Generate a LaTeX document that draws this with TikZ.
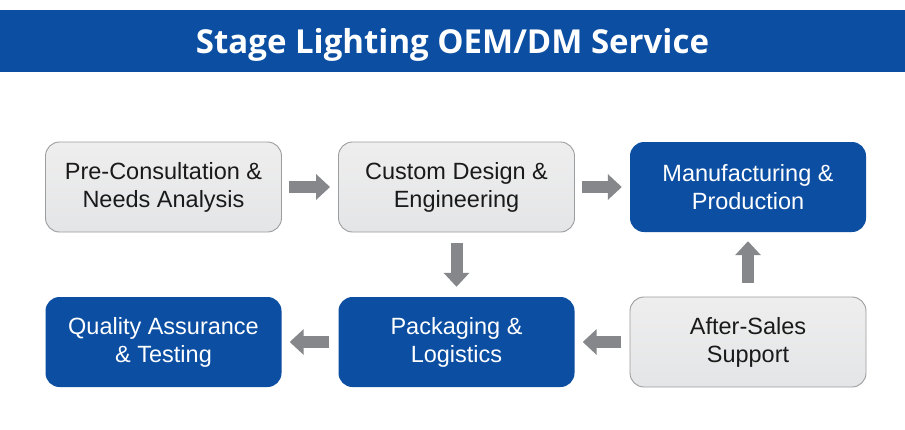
\documentclass[tikz,border=0pt]{standalone}
\usepackage{fontspec}
\setmainfont{Liberation Sans}
\newfontfamily\titlefont{Open Sans}
\usetikzlibrary{arrows.meta}
\definecolor{brandblue}{HTML}{0B4EA2}
\definecolor{boxgrey}{HTML}{E4E5E6}
\definecolor{boxgreytop}{HTML}{EEEEEF}
\definecolor{boxedge}{HTML}{9C9D9F}
\definecolor{arrowgrey}{HTML}{85878A}
\definecolor{textdark}{HTML}{1A1A1A}
\tikzset{
  titlebar/.style={fill=brandblue, text=white, minimum width=905pt, minimum height=62pt, inner sep=0pt,
    text depth=0pt, font=\titlefont\bfseries\fontsize{33}{38}\selectfont},
  stepbox/.style={rounded corners=14pt, minimum width=236pt, minimum height=90pt, align=center, inner sep=0pt,
    font=\fontsize{23.5}{28}\selectfont},
  greybox/.style={stepbox, draw=boxedge, line width=0.9pt, top color=boxgreytop, bottom color=boxgrey, text=textdark},
  bluebox/.style={stepbox, fill=brandblue, text=white},
  flow/.style={draw=arrowgrey, line width=12pt, -{Triangle[length=14pt,width=25pt]}}
}
\begin{document}
\begin{tikzpicture}[x=1pt,y=-1pt]
\useasboundingbox (0,0) rectangle (905,429);
\fill[white] (0,0) rectangle (905,429);
\node[titlebar] (title) at (452.5,41) {Stage Lighting OEM/DM Service};
\node[greybox] (b1) at (163.5,187) {Pre-Consultation \&\\Needs Analysis};
\node[greybox] (b2) at (456.5,187) {Custom Design \&\\Engineering};
\node[bluebox] (b3) at (748,187) {Manufacturing \&\\Production};
\node[bluebox] (b4) at (163.5,342) {Quality Assurance\\\& Testing};
\node[bluebox] (b5) at (456.5,342) {Packaging \&\\Logistics};
\node[greybox] (b6) at (748,342) {After-Sales\\Support};
\draw[flow, shorten <=7pt, shorten >=8pt] (b1.east) -- (b2.west);
\draw[flow, shorten <=7pt, shorten >=8pt] (b2.east) -- (b3.west);
\draw[flow, shorten <=11pt, shorten >=10pt] (b2.south) -- (b5.north);
\draw[flow, shorten <=14pt, shorten >=9pt] (b6.north) -- (b3.south);
\draw[flow, shorten <=9pt, shorten >=8pt] (b6.west) -- (b5.east);
\draw[flow, shorten <=9pt, shorten >=8pt] (b5.west) -- (b4.east);
\end{tikzpicture}
\end{document}
